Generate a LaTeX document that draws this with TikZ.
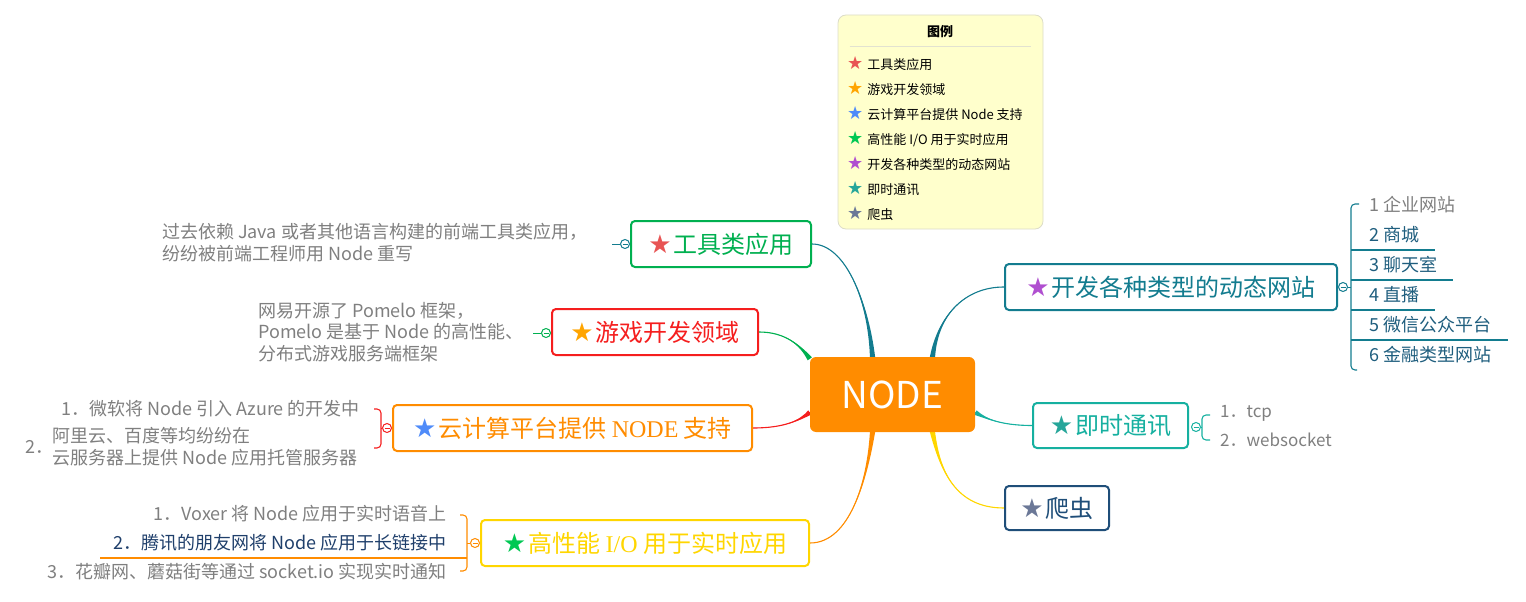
\documentclass[tikz,border=0pt]{standalone}
\usepackage{fontspec}
\setmainfont{Noto Sans CJK SC}
\newfontfamily\symf{DejaVu Sans}
\newfontfamily\serf{Liberation Serif}
\usetikzlibrary{calc}
\definecolor{cteal}{HTML}{137C8F}
\definecolor{cgreen}{HTML}{00B050}
\definecolor{cred}{HTML}{F51E1E}
\definecolor{corange}{HTML}{FF8C00}
\definecolor{cyellow}{HTML}{FFD600}
\definecolor{cteal2}{HTML}{16B0A0}
\definecolor{cnavy}{HTML}{1F4E79}
\definecolor{cgray}{HTML}{7F7F7F}
\definecolor{cdblue}{HTML}{1F3F6B}
\definecolor{citem}{HTML}{1F5E7E}
\definecolor{sred}{HTML}{E85454}
\definecolor{sorange}{HTML}{FFA500}
\definecolor{sblue}{HTML}{4F8BF9}
\definecolor{sgreen}{HTML}{00C853}
\definecolor{spurple}{HTML}{B04FD0}
\definecolor{steal}{HTML}{26A69A}
\definecolor{sgb}{HTML}{6B7897}
\definecolor{lfill}{HTML}{FFFFCC}
\definecolor{lborder}{HTML}{DCDCC8}
\definecolor{lsep}{HTML}{E2E2D0}
\newcommand\bstar[1]{{\symf\fontsize{26}{26}\selectfont\color{#1}★}\hspace{2pt}}
\newcommand\lstar[1]{{\symf\fontsize{18}{18}\selectfont\color{#1}★}\hspace{4pt}}
\newcommand\mybranch[6]{%
  \fill[#1] (#2) .. controls (#3) and (#4) .. ($(#5)+(#6)$) -- ($(#5)-(#6)$) .. controls (#4) and (#3) .. (#2) -- cycle;
  \draw[#1, line width=1.1pt] (#2) .. controls (#3) and (#4) .. (#5);
}
\pgfdeclarelayer{bg}
\pgfsetlayers{bg,main}
\begin{document}
\begin{tikzpicture}[x=1pt,y=-1pt,
  mbox/.style={draw, line width=2pt, rounded corners=4pt, minimum height=46pt, inner sep=0pt, fill=white, font=\fontsize{24}{28}\selectfont},
  gtext/.style={text=cgray, inner sep=0pt, align=left, font=\fontsize{18}{22}\selectfont},
  ltext/.style={inner sep=0pt, anchor=west, font=\fontsize{13}{15}\selectfont},
  circ/.style={circle, draw=#1, fill=white, line width=1pt, minimum size=9pt, inner sep=0pt,
    path picture={\draw[#1, line width=0.8pt] ($(path picture bounding box.center)+(-2.5,0)$) -- ($(path picture bounding box.center)+(2.5,0)$);}},
  brk/.style={line width=1.1pt, rounded corners=4pt}
]
\useasboundingbox (0,0) rectangle (1526,602);

% legend
\node[draw=lborder, fill=lfill, rounded corners=8pt, minimum width=205pt, minimum height=214pt, inner sep=0pt, line width=0.8pt] (legend) at (940.5,122) {};
\node[inner sep=0pt, font=\fontsize{13}{15}\selectfont\bfseries] (ltitle) at (940,32) {图例};
\draw[lsep, line width=0.8pt] ($(legend.north west)+(12,32)$) -- ($(legend.north east)+(-12,32)$);
\node[ltext] (l1) at (847,64) {\lstar{sred}工具类应用};
\node[ltext] (l2) at (847,89) {\lstar{sorange}游戏开发领域};
\node[ltext] (l3) at (847,114) {\lstar{sblue}云计算平台提供 Node 支持};
\node[ltext] (l4) at (847,139) {\lstar{sgreen}高性能 I/O 用于实时应用};
\node[ltext] (l5) at (847,164) {\lstar{spurple}开发各种类型的动态网站};
\node[ltext] (l6) at (847,189) {\lstar{steal}即时通讯};
\node[ltext] (l7) at (847,214) {\lstar{sgb}爬虫};

% root
\node[fill=corange, rounded corners=6pt, minimum width=165pt, minimum height=75pt, inner sep=0pt, text=white, font=\fontsize{37}{40}\selectfont] (root) at (892.5,394.5) {NODE};

% main branch boxes
\node[mbox, draw=cgreen, text=cgreen, minimum width=180pt] (b1) at (721,244) {\bstar{sred}工具类应用};
\node[mbox, draw=cred, text=cred, minimum width=206pt] (b2) at (655,332) {\bstar{sorange}游戏开发领域};
\node[mbox, draw=corange, text=corange, minimum width=359pt] (b3) at (572.5,428) {\bstar{sblue}云计算平台提供 {\serf NODE} 支持};
\node[mbox, draw=cyellow, text=cyellow, minimum width=328pt] (b4) at (645,543) {\bstar{sgreen}高性能 {\serf I/O} 用于实时应用};
\node[mbox, draw=cteal, text=cteal, minimum width=332pt] (b5) at (1171,287) {\bstar{spurple}开发各种类型的动态网站};
\node[mbox, draw=cteal2, text=cteal2, minimum width=155pt, minimum height=45pt] (b6) at (1110.5,425.5) {\bstar{steal}即时通讯};
\node[mbox, draw=cnavy, text=cnavy, minimum width=104pt, minimum height=44pt] (b7) at (1057,508) {\bstar{sgb}爬虫};

% connectors root -> branches
\coordinate (r1) at ($(root.north)+(-20,0)$);
\coordinate (r2) at ($(root.north west)+(0,2)$);
\coordinate (r3) at ($(root.west)+(0,18)$);
\coordinate (r4) at ($(root.south)+(-20,0)$);
\coordinate (r5) at ($(root.north)+(40,0)$);
\coordinate (r6) at ($(root.east)+(0,18)$);
\coordinate (r7) at ($(root.south)+(40,0)$);
\begin{pgfonlayer}{bg}
\mybranch{cteal}{b1.east}{845,244}{868,300}{r1}{2.6,0}
\mybranch{cgreen}{b2.east}{785,332}{800,345}{r2}{2.1,-1.5}
\mybranch{cred}{b3.east}{785,428}{800,420}{r3}{1.5,2.1}
\mybranch{corange}{b4.east}{850,543}{867,480}{r4}{2.6,0}
\mybranch{cteal}{b5.west}{965,287}{938,315}{r5}{2.6,0}
\mybranch{cteal2}{b6.west}{1000,425.5}{985,418}{r6}{1.5,-2.1}
\mybranch{cyellow}{b7.west}{955,508}{940,470}{r7}{2.6,0}
\end{pgfonlayer}

% branch 1 child
\node[circ=cteal] (c1) at (625,244) {};
\coordinate (e1) at (612,244);
\draw[cteal, line width=1pt] (c1.west) -- (e1);
\node[gtext, anchor=west] (t1) at (162,243) {过去依赖 Java 或者其他语言构建的前端工具类应用，\\纷纷被前端工程师用 Node 重写};

% branch 2 child
\node[circ=cgreen] (c2) at (546,333) {};
\coordinate (e2) at (533,333);
\draw[cgreen, line width=1pt] (c2.west) -- (e2);
\node[gtext, anchor=west, font=\fontsize{18}{21.5}\selectfont] (t2) at (258,332) {网易开源了 Pomelo 框架，\\Pomelo 是基于 Node 的高性能、\\分布式游戏服务端框架};

% branch 3 children
\node[circ=cred] (c3) at (387,428) {};
\coordinate (k3) at (381,428);
\draw[cred, line width=1pt] (c3.west) -- (k3);
\draw[cred, brk] (374,409) -| (381,448) -- (374,448);
\node[gtext, anchor=east] (t3a) at (360,409) {1．微软将 Node 引入 Azure 的开发中};
\node[gtext, anchor=west] (t3n) at (25,447) {2．};
\node[gtext, anchor=west] (t3b) at (52,446.5) {阿里云、百度等均纷纷在\\云服务器上提供 Node 应用托管服务器};

% branch 4 children
\node[circ=corange] (c4) at (475,543) {};
\coordinate (k4) at (467,543);
\draw[corange, line width=1pt] (c4.west) -- (k4);
\draw[corange, brk] (460,515) -| (467,571) -- (460,571);
\draw[corange, line width=1.1pt] (467,558) -- (100,558);
\node[gtext, anchor=east] (t4a) at (447,514) {1．Voxer 将 Node 应用于实时语音上};
\node[gtext, anchor=east, text=cdblue] (t4b) at (447,543) {2．腾讯的朋友网将 Node 应用于长链接中};
\node[gtext, anchor=east] (t4c) at (447,572) {3．花瓣网、蘑菇街等通过 socket.io 实现实时通知};

% branch 5 children
\node[circ=cteal] (c5) at (1343,287) {};
\coordinate (k5) at (1351,287);
\draw[cteal, line width=1pt] (c5.east) -- (k5);
\draw[cteal, brk] (1359,204) -| (1351,370) -- (1357,370);
\draw[cteal, line width=1.1pt] (1351,250) -- (1435,250);
\draw[cteal, line width=1.1pt] (1351,280) -- (1453,280);
\draw[cteal, line width=1.1pt] (1351,310) -- (1435,310);
\draw[cteal, line width=1.1pt] (1351,340) -- (1508,340);
\node[gtext, anchor=west] (t5a) at (1369,205) {1\hspace{4pt}企业网站};
\node[gtext, anchor=west, text=citem] (t5b) at (1369,235) {2\hspace{4pt}商城};
\node[gtext, anchor=west, text=citem] (t5c) at (1369,265) {3\hspace{4pt}聊天室};
\node[gtext, anchor=west, text=citem] (t5d) at (1369,295) {4\hspace{4pt}直播};
\node[gtext, anchor=west, text=citem] (t5e) at (1369,325) {5\hspace{4pt}微信公众平台};
\node[gtext, anchor=west, text=citem] (t5f) at (1369,355) {6\hspace{4pt}金融类型网站};

% branch 6 children
\node[circ=cteal2] (c6) at (1196,427) {};
\coordinate (k6) at (1202,427);
\draw[cteal2, line width=1pt] (c6.east) -- (k6);
\draw[cteal2, brk] (1210,415) -| (1202,440) -- (1210,440);
\node[gtext, anchor=west, font=\fontsize{17}{20}\selectfont] (t6a) at (1220,413) {1．tcp};
\node[gtext, anchor=west, font=\fontsize{17}{20}\selectfont] (t6b) at (1220,440) {2．websocket};
\end{tikzpicture}
\end{document}
